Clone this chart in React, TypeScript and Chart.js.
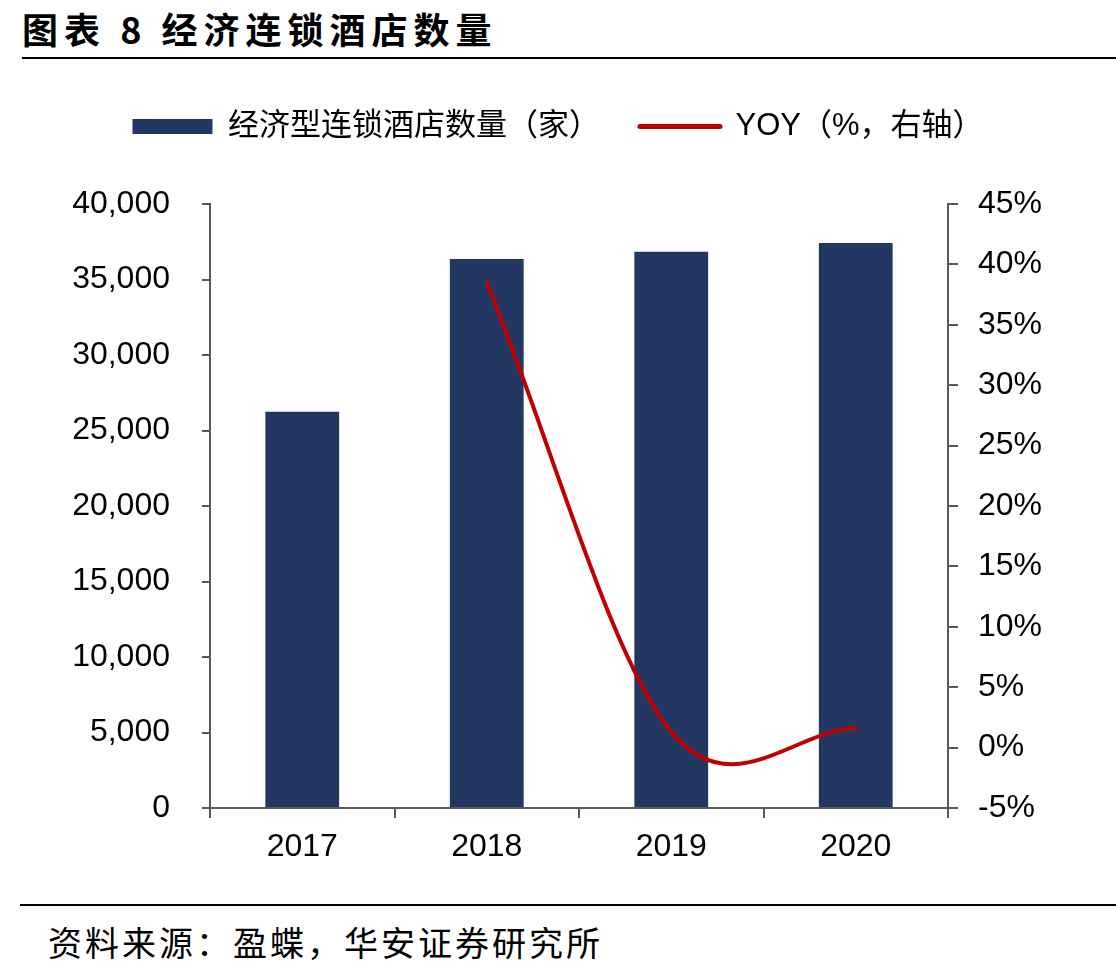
import React, { useEffect, useRef } from "react";
import { Chart, registerables } from "chart.js";

Chart.register(...registerables);

// ---- data ----
const categories: string[] = ["2017", "2018", "2019", "2020"];
const hotelCounts: number[] = [26250, 36360, 36830, 37420];
const yoyPercent: (number | null)[] = [null, 38.5, 1.3, 1.6];
const leftTicks: number[] = [0, 5000, 10000, 15000, 20000, 25000, 30000, 35000, 40000];
const rightTicks: number[] = [-5, 0, 5, 10, 15, 20, 25, 30, 35, 40, 45];

const titleText = "图表 8 经济连锁酒店数量";
const sourceText = "资料来源：盈蝶，华安证券研究所";
const barLabel = "经济型连锁酒店数量（家）";
const lineLabel = "YOY（%，右轴）";

const FONT = "'Liberation Sans', 'Noto Sans CJK SC', sans-serif";
const BAR_COLOR = "#223862";
const LINE_COLOR = "#C00000";
const AXIS_COLOR = "#595959";

// Spreadsheet-style (Catmull-Rom) smoothing of the line's bezier control points,
// computed from the points the library has already placed on its scales.
const smoothLinePlugin = {
  id: "smoothLine",
  beforeDatasetDraw(chart: any, args: any) {
    const meta = args.meta;
    if (meta.type !== "line") return;
    const line = meta.dataset;
    if (!line) return;
    line.updateControlPoints(chart.chartArea, "x");
    const pts = meta.data.filter((p: any) => !p.skip);
    const n = pts.length;
    for (let i = 0; i < n; i++) {
      const p = pts[i];
      const prev = pts[i - 1];
      const next = pts[i + 1];
      let dx = 0;
      let dy = 0;
      if (prev && next) {
        dx = (next.x - prev.x) / 6;
        dy = (next.y - prev.y) / 6;
      } else if (next) {
        dx = (next.x - p.x) / 3;
        dy = (next.y - p.y) / 3;
      } else if (prev) {
        dx = (p.x - prev.x) / 3;
        dy = (p.y - prev.y) / 3;
      }
      p.cp1x = p.x - dx;
      p.cp1y = p.y - dy;
      p.cp2x = p.x + dx;
      p.cp2y = p.y + dy;
    }
  },
};

function ChartCanvas() {
  const ref = useRef<HTMLCanvasElement | null>(null);
  useEffect(() => {
    if (!ref.current) return;
    const chart = new Chart(ref.current, {
      type: "bar",
      data: {
        labels: categories,
        datasets: [
          {
            type: "bar",
            label: barLabel,
            data: hotelCounts,
            backgroundColor: BAR_COLOR,
            borderWidth: 0,
            yAxisID: "y",
            categoryPercentage: 1,
            barPercentage: 0.4,
            order: 1,
          },
          {
            type: "line",
            label: lineLabel,
            data: yoyPercent,
            borderColor: LINE_COLOR,
            backgroundColor: LINE_COLOR,
            borderWidth: 4,
            borderCapStyle: "round",
            pointRadius: 0,
            tension: 0.4,
            spanGaps: true,
            yAxisID: "y1",
            order: 0,
          },
        ] as any,
      },
      plugins: [smoothLinePlugin],
      options: {
        responsive: false,
        animation: false,
        layout: { padding: { top: 1, left: 0, right: 0, bottom: 0 } },
        plugins: {
          tooltip: { enabled: false },
          legend: {
            position: "top",
            labels: {
              usePointStyle: true,
              pointStyleWidth: 80,
              boxHeight: 15,
              padding: 40,
              color: "#000",
              font: { family: FONT, size: 31 },
              sort: (a: any, b: any) => a.datasetIndex - b.datasetIndex,
              generateLabels: (chart: any) => {
                const items = Chart.defaults.plugins.legend.labels.generateLabels(chart);
                items.forEach((it: any) => {
                  if (it.datasetIndex === 0) {
                    it.pointStyle = "rect";
                    it.fillStyle = BAR_COLOR;
                    it.lineWidth = 0;
                  } else {
                    it.pointStyle = "line";
                    it.strokeStyle = LINE_COLOR;
                    it.lineWidth = 5;
                    it.lineCap = "round";
                  }
                });
                return items;
              },
            },
          },
          title: {
            display: true,
            text: "",
            weight: 500,
            padding: { top: 20, bottom: 20 },
            font: { size: 10 },
          } as any,
        },
        scales: {
          x: {
            offset: true,
            grid: {
              display: true,
              offset: true,
              drawOnChartArea: false,
              drawTicks: true,
              tickLength: 10,
              color: AXIS_COLOR,
              lineWidth: 2,
            },
            border: { display: true, color: AXIS_COLOR, width: 2 },
            ticks: { color: "#000", font: { family: FONT, size: 32 }, padding: 10 },
            afterFit: (s: any) => {
              s.height = 92;
            },
          },
          y: {
            position: "left",
            min: 0,
            max: 40000,
            afterBuildTicks: (s: any) => {
              s.ticks = leftTicks.map((v) => ({ value: v }));
            },
            ticks: {
              color: "#000",
              font: { family: FONT, size: 32 },
              padding: 32,
              callback: (v: any) => Number(v).toLocaleString("en-US"),
            },
            grid: {
              drawOnChartArea: false,
              drawTicks: true,
              tickLength: 8,
              color: AXIS_COLOR,
              lineWidth: 2,
            },
            border: { display: true, color: AXIS_COLOR, width: 2 },
            afterFit: (s: any) => {
              s.width = 210;
            },
          },
          y1: {
            position: "right",
            min: -5,
            max: 45,
            afterBuildTicks: (s: any) => {
              s.ticks = rightTicks.map((v) => ({ value: v }));
            },
            ticks: {
              color: "#000",
              font: { family: FONT, size: 32 },
              padding: 20,
              callback: (v: any) => `${v}%`,
            },
            grid: {
              drawOnChartArea: false,
              drawTicks: true,
              tickLength: 10,
              color: AXIS_COLOR,
              lineWidth: 2,
            },
            border: { display: true, color: AXIS_COLOR, width: 2 },
            afterFit: (s: any) => {
              s.width = 168;
            },
          },
        },
      } as any,
    });
    return () => chart.destroy();
  }, []);
  return (
    <canvas
      ref={ref}
      width={1116}
      height={830}
      style={{ position: "absolute", left: 0, top: 70, width: 1116, height: 830 }}
    />
  );
}

export default function App() {
  return (
    <div
      style={{
        position: "absolute",
        left: 0,
        top: 0,
        width: 1116,
        height: 971,
        background: "#fff",
        overflow: "hidden",
      }}
    >
      <div
        style={{
          position: "absolute",
          left: 22,
          top: 10,
          fontFamily: "'Noto Sans CJK SC', sans-serif",
          fontWeight: 700,
          fontSize: 36,
          lineHeight: "36px",
          letterSpacing: 6,
          color: "#000",
          whiteSpace: "pre",
        }}
      >
        {titleText}
      </div>
      <div style={{ position: "absolute", left: 22, right: 0, top: 57, height: 2, background: "#000" }} />
      <ChartCanvas />
      <div style={{ position: "absolute", left: 20, right: 0, top: 904, height: 2, background: "#000" }} />
      <div
        style={{
          position: "absolute",
          left: 48,
          top: 924,
          fontFamily: "'Noto Sans CJK SC', sans-serif",
          fontSize: 34,
          lineHeight: "36px",
          letterSpacing: 3,
          color: "#000",
          whiteSpace: "pre",
        }}
      >
        {sourceText}
      </div>
    </div>
  );
}
